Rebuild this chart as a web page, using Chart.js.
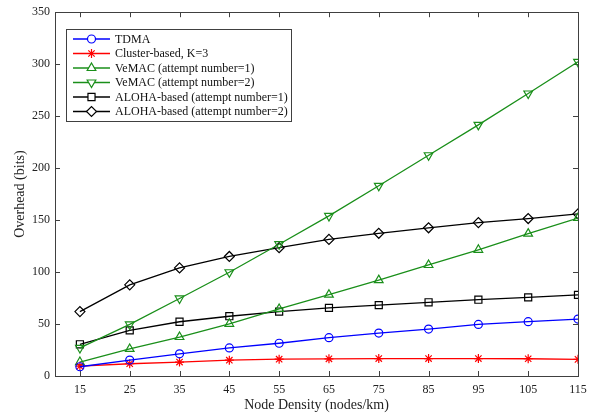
<!DOCTYPE html>
<html>
<head>
<meta charset="utf-8">
<script src="https://cdn.jsdelivr.net/npm/chart.js@4/dist/chart.umd.min.js"></script>
<style>
  html, body { margin: 0; padding: 0; background: #fff; }
  #wrap { width: 596px; height: 418px; position: relative; }
</style>
</head>
<body>
<div id="wrap"><canvas id="myChart"></canvas></div>
<script>
// node density (nodes/km)
var density = [15, 25, 35, 45, 55, 65, 75, 85, 95, 105, 115];
var xTicks = [15, 25, 35, 45, 55, 65, 75, 85, 95, 105, 115];

var tdma = [8.9, 15.3, 21.3, 27, 31.5, 36.9, 41.3, 45.1, 49.6, 52.3, 54.8];
var clusterK3 = [9.5, 11.8, 13.4, 15.2, 16.2, 16.5, 16.8, 16.8, 16.8, 16.6, 16];
var vemac1 = [13.4, 26, 37.5, 50.2, 64.5, 78.2, 92.2, 106.8, 121.4, 137, 152];
var vemac2 = [27, 49.6, 74.6, 99.8, 126.8, 154, 183, 212.4, 241.6, 271.8, 302.3];
var aloha1 = [30.5, 43.9, 52.2, 57.5, 62, 65.5, 68.2, 70.9, 73.4, 75.6, 78];
var aloha2 = [62, 87.7, 104, 115, 123.5, 131.4, 137.3, 142.6, 147.6, 151.5, 156];

var seriesNames = [
    "TDMA",
    "Cluster-based, K=3",
    "VeMAC (attempt number=1)",
    "VeMAC (attempt number=2)",
    "ALOHA-based (attempt number=1)",
    "ALOHA-based (attempt number=2)",
];

var green = "#1a8f1a";
var axisColor = "#404040";
var fontFamily = "'Liberation Serif', 'Times New Roman', serif";

function pts(vals) {
    return vals.map(function (v, i) { return { x: density[i], y: v }; });
}

function makeSet(label, vals, color, style, radius, rotation) {
    return {
        label: label,
        data: pts(vals),
        borderColor: color,
        backgroundColor: "rgba(0,0,0,0)",
        borderWidth: 1.3,
        pointStyle: style,
        pointRadius: radius,
        pointRotation: rotation || 0,
        pointBorderColor: color,
        pointBackgroundColor: "rgba(0,0,0,0)",
        pointBorderWidth: 1.2,
        tension: 0,
    };
}

// MATLAB-like box with inward ticks
var boxPlugin = {
    id: "box",
    beforeDatasetsDraw: function (chart) {
        var ctx = chart.ctx;
        var a = chart.chartArea;
        var xs = chart.scales.x;
        var ys = chart.scales.y;
        ctx.save();
        ctx.strokeStyle = axisColor;
        ctx.lineWidth = 1;
        ctx.strokeRect(Math.round(a.left) + 0.5, Math.round(a.top) + 0.5,
            Math.round(a.right - a.left), Math.round(a.bottom - a.top));
        ctx.beginPath();
        xs.ticks.forEach(function (t) {
            var x = Math.round(xs.getPixelForValue(t.value)) + 0.5;
            ctx.moveTo(x, a.bottom);
            ctx.lineTo(x, a.bottom - 5);
            ctx.moveTo(x, a.top);
            ctx.lineTo(x, a.top + 5);
        });
        ys.ticks.forEach(function (t) {
            var y = Math.round(ys.getPixelForValue(t.value)) + 0.5;
            ctx.moveTo(a.left, y);
            ctx.lineTo(a.left + 5, y);
            ctx.moveTo(a.right, y);
            ctx.lineTo(a.right - 5, y);
        });
        ctx.stroke();
        ctx.restore();
    },
};

// legend box drawn inside the plot, line + marker per entry
var legendPlugin = {
    id: "boxLegend",
    afterDraw: function (chart) {
        var ctx = chart.ctx;
        var left = 66.5, top = 29.5, w = 225, h = 92;
        ctx.save();
        ctx.fillStyle = "#fff";
        ctx.fillRect(left, top, w, h);
        ctx.strokeStyle = axisColor;
        ctx.lineWidth = 1;
        ctx.strokeRect(left, top, w, h);
        ctx.font = "12px " + fontFamily;
        ctx.textBaseline = "middle";
        chart.data.datasets.forEach(function (ds, i) {
            var y = 39 + i * 14.5;
            ctx.strokeStyle = ds.borderColor;
            ctx.lineWidth = ds.borderWidth;
            ctx.beginPath();
            ctx.moveTo(73, y);
            ctx.lineTo(110, y);
            ctx.stroke();
            ctx.lineWidth = ds.pointBorderWidth;
            ctx.fillStyle = "#fff";
            Chart.helpers.drawPoint(ctx, {
                pointStyle: ds.pointStyle,
                radius: ds.pointRadius,
                rotation: ds.pointRotation,
                borderWidth: ds.pointBorderWidth,
            }, 91.5, y);
            ctx.fillStyle = "#111";
            ctx.fillText(ds.label, 115, y + 0.5);
        });
        ctx.restore();
    },
};

var $chart = document.getElementById("myChart");
var chart = new Chart($chart, {
    type: "line",
    data: {
        datasets: [
            makeSet(seriesNames[0], tdma, "#0000ff", "circle", 4),
            makeSet(seriesNames[1], clusterK3, "#ff0000", "star", 4.5),
            makeSet(seriesNames[2], vemac1, green, "triangle", 5),
            makeSet(seriesNames[3], vemac2, green, "triangle", 5, 180),
            makeSet(seriesNames[4], aloha1, "#000000", "rect", 5),
            makeSet(seriesNames[5], aloha2, "#000000", "rectRot", 5),
        ],
    },
    options: {
        responsive: true,
        maintainAspectRatio: false,
        animation: false,
        layout: { padding: { top: 9, right: 18, left: 0, bottom: 0 } },
        plugins: {
            legend: { display: false },
            tooltip: { enabled: false },
        },
        scales: {
            x: {
                type: "linear",
                min: 10,
                max: 115,
                afterBuildTicks: function (scale) {
                    scale.ticks = xTicks.map(function (v) { return { value: v }; });
                },
                afterFit: function (scale) { scale.height = 42; },
                grid: { display: false, drawTicks: false },
                border: { display: false },
                ticks: {
                    padding: 7,
                    maxRotation: 0,
                    autoSkip: false,
                    color: "#222",
                    font: { family: fontFamily, size: 12 },
                },
                title: {
                    display: true,
                    text: "Node Density (nodes/km)",
                    color: "#222",
                    padding: { top: 0, bottom: 4 },
                    font: { family: fontFamily, size: 14 },
                },
            },
            y: {
                min: 0,
                max: 350,
                afterFit: function (scale) { scale.width = 55; },
                grid: { display: false, drawTicks: false },
                border: { display: false },
                ticks: {
                    stepSize: 50,
                    padding: 5,
                    color: "#222",
                    font: { family: fontFamily, size: 12 },
                },
                title: {
                    display: true,
                    text: "Overhead (bits)",
                    color: "#222",
                    padding: { top: 12, bottom: 0 },
                    font: { family: fontFamily, size: 14 },
                },
            },
        },
    },
    plugins: [boxPlugin, legendPlugin],
});
</script>
</body>
</html>
